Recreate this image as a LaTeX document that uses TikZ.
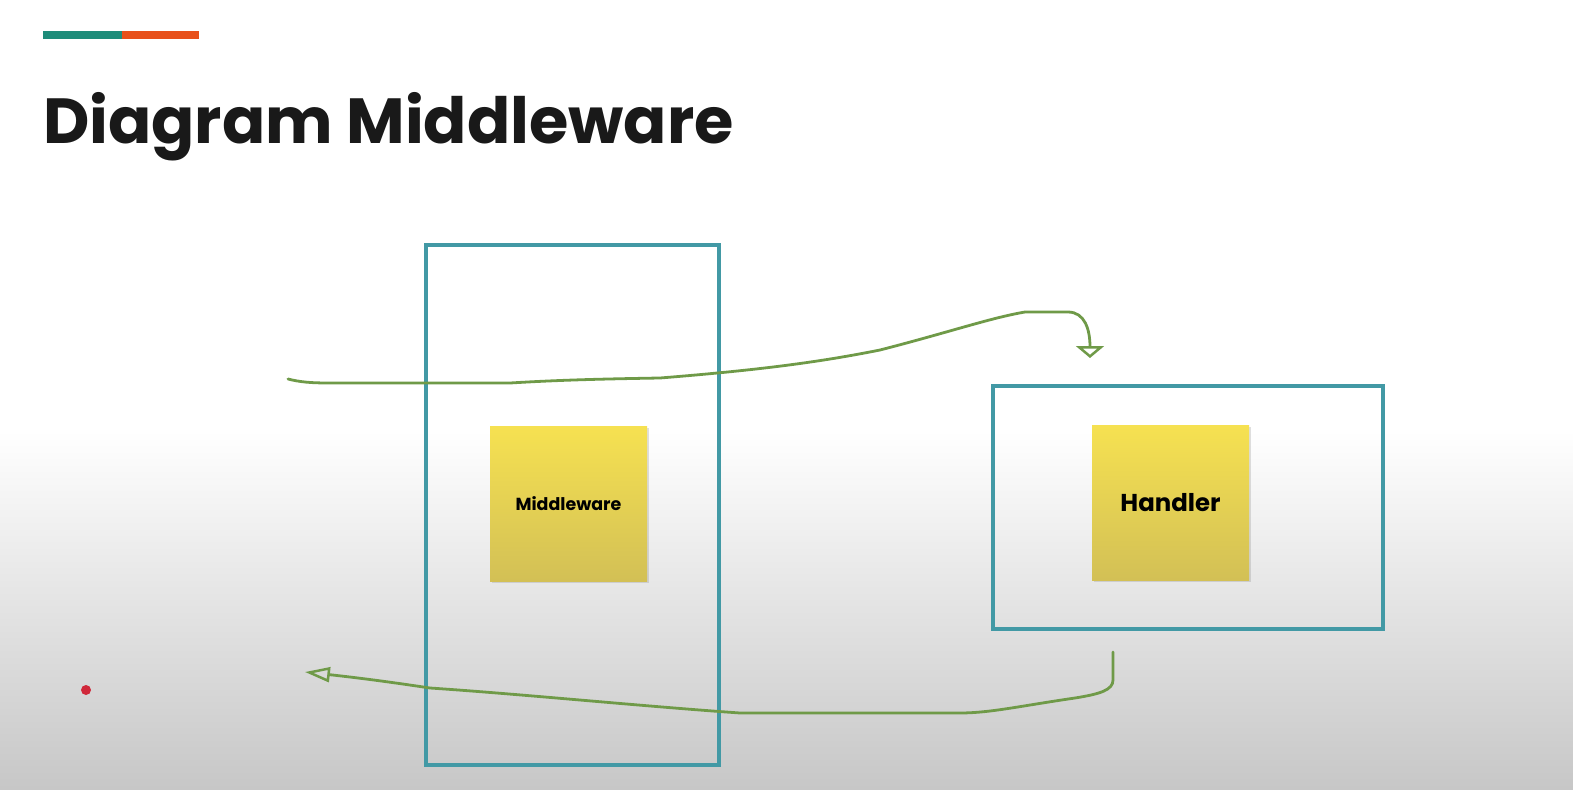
\documentclass[tikz,border=0pt]{standalone}
\usepackage{fontspec}
\setmainfont{Poppins}
\usetikzlibrary{arrows.meta,shadows}

\definecolor{barteal}{HTML}{1E8C7A}
\definecolor{barorange}{HTML}{E8501A}
\definecolor{frame}{HTML}{4299A5}
\definecolor{noteyellow}{HTML}{F5DE5A}
\definecolor{pen}{HTML}{6F9A48}
\definecolor{dot}{HTML}{D0283A}

\tikzset{
    frame/.style={draw=frame, line width=4.5pt},
    note/.style={draw=none, top color=noteyellow!90!yellow, bottom color=noteyellow!85!black!95,
        minimum width=157bp, minimum height=155bp, inner sep=0pt,
        drop shadow={shadow xshift=1.5pt, shadow yshift=-2pt, opacity=0.25}, font=\bfseries},
    pen/.style={draw=pen, line width=2.8pt, line cap=round, line join=round},
    tipdown/.style={-{Triangle[open, length=12pt, width=28pt, line width=2.5pt]}},
    tipleft/.style={-{Triangle[open, length=25pt, width=15pt, line width=2.5pt]}}
}

\begin{document}
\begin{tikzpicture}[x=1bp, y=-1bp]
    % background
    \useasboundingbox (0,0) rectangle (1573,789);
    \fill[white] (0,0) rectangle (1573,430);
    \shade[top color=white, bottom color=black!22] (0,430) rectangle (1573,789);
    % title bar
    \fill[barteal] (43,31) rectangle (122,39);
    \fill[barorange] (122,31) rectangle (199,39);
    \node[anchor=base west, inner sep=0pt, font=\fontsize{64}{72}\selectfont\bfseries, text=black!90] (title) at (43,143) {Diagram Middleware};
    % boxes
    \node[frame, minimum width=293bp, minimum height=520bp, inner sep=0pt] (mwbox) at (572.5,505) {};
    \node[frame, minimum width=390bp, minimum height=243bp, inner sep=0pt] (hbox) at (1188,507.5) {};
    \node[note, font=\fontsize{17.5}{20}\selectfont\bfseries] (mw) at (568.5,503.5) {Middleware};
    \node[note, font=\fontsize{24.5}{28}\selectfont\bfseries] (handler) at (1170.5,502.5) {Handler};
    % request line
    \coordinate (req) at (288,379);
    \coordinate (reqend) at (1090,358);
    \draw[pen, tipdown] (req) .. controls (300,382) and (310,383) .. (330,383)
        -- (510,383) .. controls (560,380) and (600,379) .. (660,378)
        .. controls (760,370) and (820,362) .. (880,350)
        .. controls (950,332) and (990,318) .. (1025,312)
        -- (1068,312) .. controls (1085,312) and (1090,330) .. (reqend);
    % response line
    \coordinate (resp) at (1113,652);
    \coordinate (respend) at (305,672);
    \draw[pen, tipleft] (resp) -- (1113,680) .. controls (1113,690) and (1100,694) .. (1075,698)
        .. controls (1020,706) and (990,713) .. (960,713)
        -- (740,713) .. controls (640,706) and (520,694) .. (430,688)
        .. controls (390,682) and (360,678) .. (respend);
    % pointer
    \fill[dot] (86,690) circle (5bp) node (pointer) {};
\end{tikzpicture}
\end{document}
